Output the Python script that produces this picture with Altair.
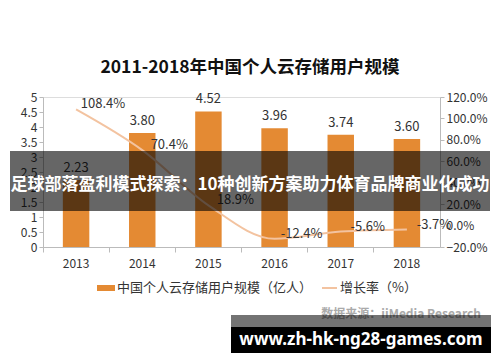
import altair as alt
import pandas as pd

years = ["2013", "2014", "2015", "2016", "2017", "2018"]
users = [2.23, 3.80, 4.52, 3.96, 3.74, 3.60]
growth = [1.084, 0.704, 0.189, -0.124, -0.056, -0.037]
user_labels = ["2.23", "3.80", "4.52", "3.96", "3.74", "3.60"]
growth_labels = ["108.4%", "70.4%", "18.9%", "-12.4%", "-5.6%", "-3.7%"]

title_text = "2011-2018年中国个人云存储用户规模"
legend_bar = "中国个人云存储用户规模（亿人）"
legend_line = "增长率（%）"
source_text = "数据来源：iiMedia Research"
banner_text = "足球部落盈利模式探索：10种创新方案助力体育品牌商业化成功"
url_text = "www.zh-hk-ng28-games.com"

FONT = "Noto Sans CJK SC"
BAR = "#E48A33"
LINE = "#F3C3A0"

df = pd.DataFrame({"year": years, "users": users, "growth": growth,
                   "ul": user_labels, "gl": growth_labels})

xenc = alt.X("year:N", title=None,
             scale=alt.Scale(paddingInner=0, paddingOuter=0),
             axis=alt.Axis(labelAngle=0, bandPosition=0, domainColor="#bbb",
                           tickColor="#bbb", tickSize=5, labelFontSize=12,
                           labelColor="#333", labelFont=FONT, labelPadding=6))

left_y = alt.Y("users:Q", title=None,
               scale=alt.Scale(domain=[0, 5], nice=False),
               axis=alt.Axis(values=[0, 0.5, 1, 1.5, 2, 2.5, 3, 3.5, 4, 4.5, 5],
                             format=".1~f", grid=False, domainColor="#bbb",
                             tickColor="#bbb", tickSize=4, labelFontSize=12,
                             labelColor="#333", labelFont=FONT))

right_y = alt.Y("growth:Q", title=None,
                scale=alt.Scale(domain=[-0.2, 1.2], nice=False),
                axis=alt.Axis(orient="right",
                              values=[-0.2, 0, 0.2, 0.4, 0.6, 0.8, 1.0, 1.2],
                              format=".1%", grid=False, domainColor="#bbb",
                              tickColor="#bbb", tickSize=4, labelFontSize=12,
                              labelColor="#333", labelFont=FONT))

base = alt.Chart(df)

bars = base.mark_bar(color=BAR, width=alt.RelativeBandSize(0.4)).encode(x=xenc, y=left_y)
bar_text = base.mark_text(baseline="bottom", dy=-5, fontSize=13, color="#333",
                          font=FONT).encode(x=xenc, y=left_y, text="ul:N")

line = base.mark_line(color=LINE, strokeWidth=2, interpolate="monotone").encode(
    x=xenc, y=right_y)
line_text = base.mark_text(align="center", baseline="middle", dx=27, dy=-5,
                           fontSize=13, color="#333", font=FONT).encode(
    x=xenc, y=right_y, text="gl:N")

left_layer = alt.layer(bars, bar_text)
right_layer = alt.layer(line, line_text)
main = alt.layer(left_layer, right_layer).resolve_scale(y="independent")


def txt(s, x, y, **kw):
    return alt.Chart(pd.DataFrame({"t": [s]})).mark_text(font=FONT, **kw).encode(
        x=alt.value(x), y=alt.value(y), text="t:N")


def box(x1, x2, y1, y2, **kw):
    return alt.Chart(pd.DataFrame({"a": [0]})).mark_rect(**kw).encode(
        x=alt.value(x1), x2=alt.value(x2), y=alt.value(y1), y2=alt.value(y2))


title = txt(title_text, 207, -29, fontSize=17.5, fontWeight="bold", color="#111",
            align="center", baseline="middle")

leg_rect = box(54, 72, 188, 194, color=BAR)
leg_text1 = txt(legend_bar, 74, 191, fontSize=13, color="#333", align="left",
                baseline="middle")
leg_line = alt.Chart(pd.DataFrame({"a": [0]})).mark_rule(
    color=LINE, strokeWidth=2).encode(x=alt.value(279), x2=alt.value(294),
                                      y=alt.value(191))
leg_text2 = txt(legend_line, 297, 191, fontSize=13, color="#333", align="left",
                baseline="middle")

source = txt(source_text, 438, 217, fontSize=12, fontWeight="bold", color="#aaa",
             align="right", baseline="middle")

banner = box(-33, 447, 54, 114, color="#000", opacity=0.6)
banner_t = txt(banner_text, 207, 88, fontSize=17, fontWeight="bold", color="#fff",
               align="center", baseline="middle")

url_box1 = box(188, 448, 218, 230, color="#000", opacity=0.55)
url_box2 = box(188, 448, 230, 256, color="#000")
url_t = alt.Chart(pd.DataFrame({"t": [url_text]})).mark_text(
    font="Noto Sans", fontSize=17, fontWeight="bold", color="#fff",
    align="center", baseline="middle").encode(
    x=alt.value(318), y=alt.value(243), text="t:N")

chart = alt.layer(
    main, title, leg_rect, leg_text1, leg_line, leg_text2, source,
    banner, banner_t, url_box1, url_box2, url_t
).properties(
    width=397, height=150,
    padding={"left": 35, "top": 89, "right": 52, "bottom": 107},
    autosize=alt.AutoSizeParams(type="none"),
).configure_view(stroke=None).configure(background="white")

chart.save("out.html", embed_options={"renderer": "svg", "actions": False})
